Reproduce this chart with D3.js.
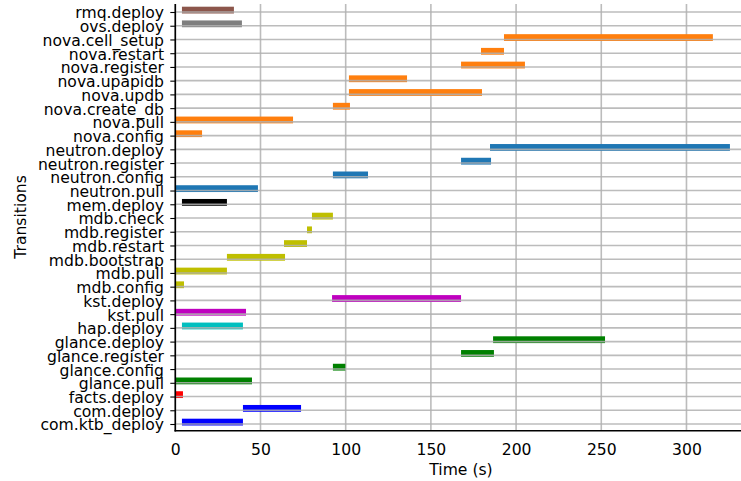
<!DOCTYPE html>
<html><head><meta charset="utf-8">
<script src="https://cdn.jsdelivr.net/npm/d3@7"></script>
<style>body{margin:0;background:#fff}svg{display:block}text{font-family:"DejaVu Sans",sans-serif;fill:#000}</style>
</head><body>
<svg id="c" width="741" height="481"></svg>
<script>
const categories = ["rmq.deploy","ovs.deploy","nova.cell_setup","nova.restart","nova.register","nova.upapidb","nova.updb","nova.create_db","nova.pull","nova.config","neutron.deploy","neutron.register","neutron.config","neutron.pull","mem.deploy","mdb.check","mdb.register","mdb.restart","mdb.bootstrap","mdb.pull","mdb.config","kst.deploy","kst.pull","hap.deploy","glance.deploy","glance.register","glance.config","glance.pull","facts.deploy","com.deploy","com.ktb_deploy"];
const starts = [3.9,3.9,192.9,179.4,167.7,101.9,101.9,92.5,0,0,184.7,167.7,92.5,0,3.9,80.2,77.3,63.8,30.3,0,0,92,0,3.9,186.5,167.7,92.5,0,0,39.7,3.9];
const ends   = [34.4,39.1,315.5,192.9,205.2,136.0,180.0,102.5,69.1,15.7,325.5,185.3,113.1,48.5,30.3,92.5,80.2,77.3,64.4,30.3,5.1,167.7,41.5,39.7,252.2,187.0,99.8,45.0,4.5,73.8,39.7];
const colors = ["#8c564b","#7f7f7f","#ff7f0e","#ff7f0e","#ff7f0e","#ff7f0e","#ff7f0e","#ff7f0e","#ff7f0e","#ff7f0e","#1f77b4","#1f77b4","#1f77b4","#1f77b4","#000000","#bfbf00","#bfbf00","#bfbf00","#bfbf00","#bfbf00","#bfbf00","#bf00bf","#bf00bf","#00bfbf","#008000","#008000","#008000","#008000","#ff0000","#0000ff","#0000ff"];
const xTicks = [0,50,100,150,200,250,300];

const FS = 15.6;
const svg = d3.select("#c");
const L = 175.3, R = 741, T = 4, B = 430.7;
const x = d3.scaleLinear().domain([0, 332]).range([L, R]);
const y = d3.scalePoint().domain(categories).range([12, 424]);

// vertical grid
svg.append("g").selectAll("line").data(xTicks).join("line")
  .attr("x1", d => x(d)).attr("x2", d => x(d)).attr("y1", T).attr("y2", B)
  .attr("stroke", "#b0b0b0").attr("stroke-width", 1.6).attr("stroke-opacity", 0.85);

// bars
svg.append("g").selectAll("rect").data(categories).join("rect")
  .attr("x", (d, i) => x(starts[i])).attr("width", (d, i) => x(ends[i]) - x(starts[i]))
  .attr("y", d => y(d) - 5.3).attr("height", 6.8)
  .attr("fill", (d, i) => colors[i]);

// horizontal grid (drawn over bars)
svg.append("g").selectAll("line").data(categories).join("line")
  .attr("x1", L).attr("x2", R).attr("y1", d => y(d)).attr("y2", d => y(d))
  .attr("stroke", "#b0b0b0").attr("stroke-width", 1.6).attr("stroke-opacity", 0.85);

// y axis
const ya = svg.append("g").attr("transform", `translate(${L},0)`)
  .call(d3.axisLeft(y).tickSize(5).tickPadding(6.3));
ya.select(".domain").remove();
ya.selectAll("text").attr("font-size", FS).attr("font-family", "DejaVu Sans").attr("dy", "0.38em");
ya.selectAll("line").attr("stroke", "#000").attr("stroke-width", 1.1);

// x axis
const xa = svg.append("g").attr("transform", `translate(0,${B})`)
  .call(d3.axisBottom(x).tickValues(xTicks).tickSize(0));
xa.select(".domain").remove();
xa.selectAll("text").attr("font-size", FS).attr("font-family", "DejaVu Sans").attr("y", 24).attr("dy", 0);

// spines
svg.append("line").attr("x1", L).attr("x2", L).attr("y1", T).attr("y2", B + 0.8).attr("stroke", "#000").attr("stroke-width", 1.6);
svg.append("line").attr("x1", L - 0.8).attr("x2", R).attr("y1", B).attr("y2", B).attr("stroke", "#000").attr("stroke-width", 1.6);

// axis labels
svg.append("text").attr("x", 461).attr("y", 475).attr("text-anchor", "middle").attr("font-size", FS).text("Time (s)");
svg.append("text").attr("transform", `translate(25.5,217) rotate(-90)`).attr("text-anchor", "middle").attr("font-size", FS).text("Transitions");
</script>
</body></html>
